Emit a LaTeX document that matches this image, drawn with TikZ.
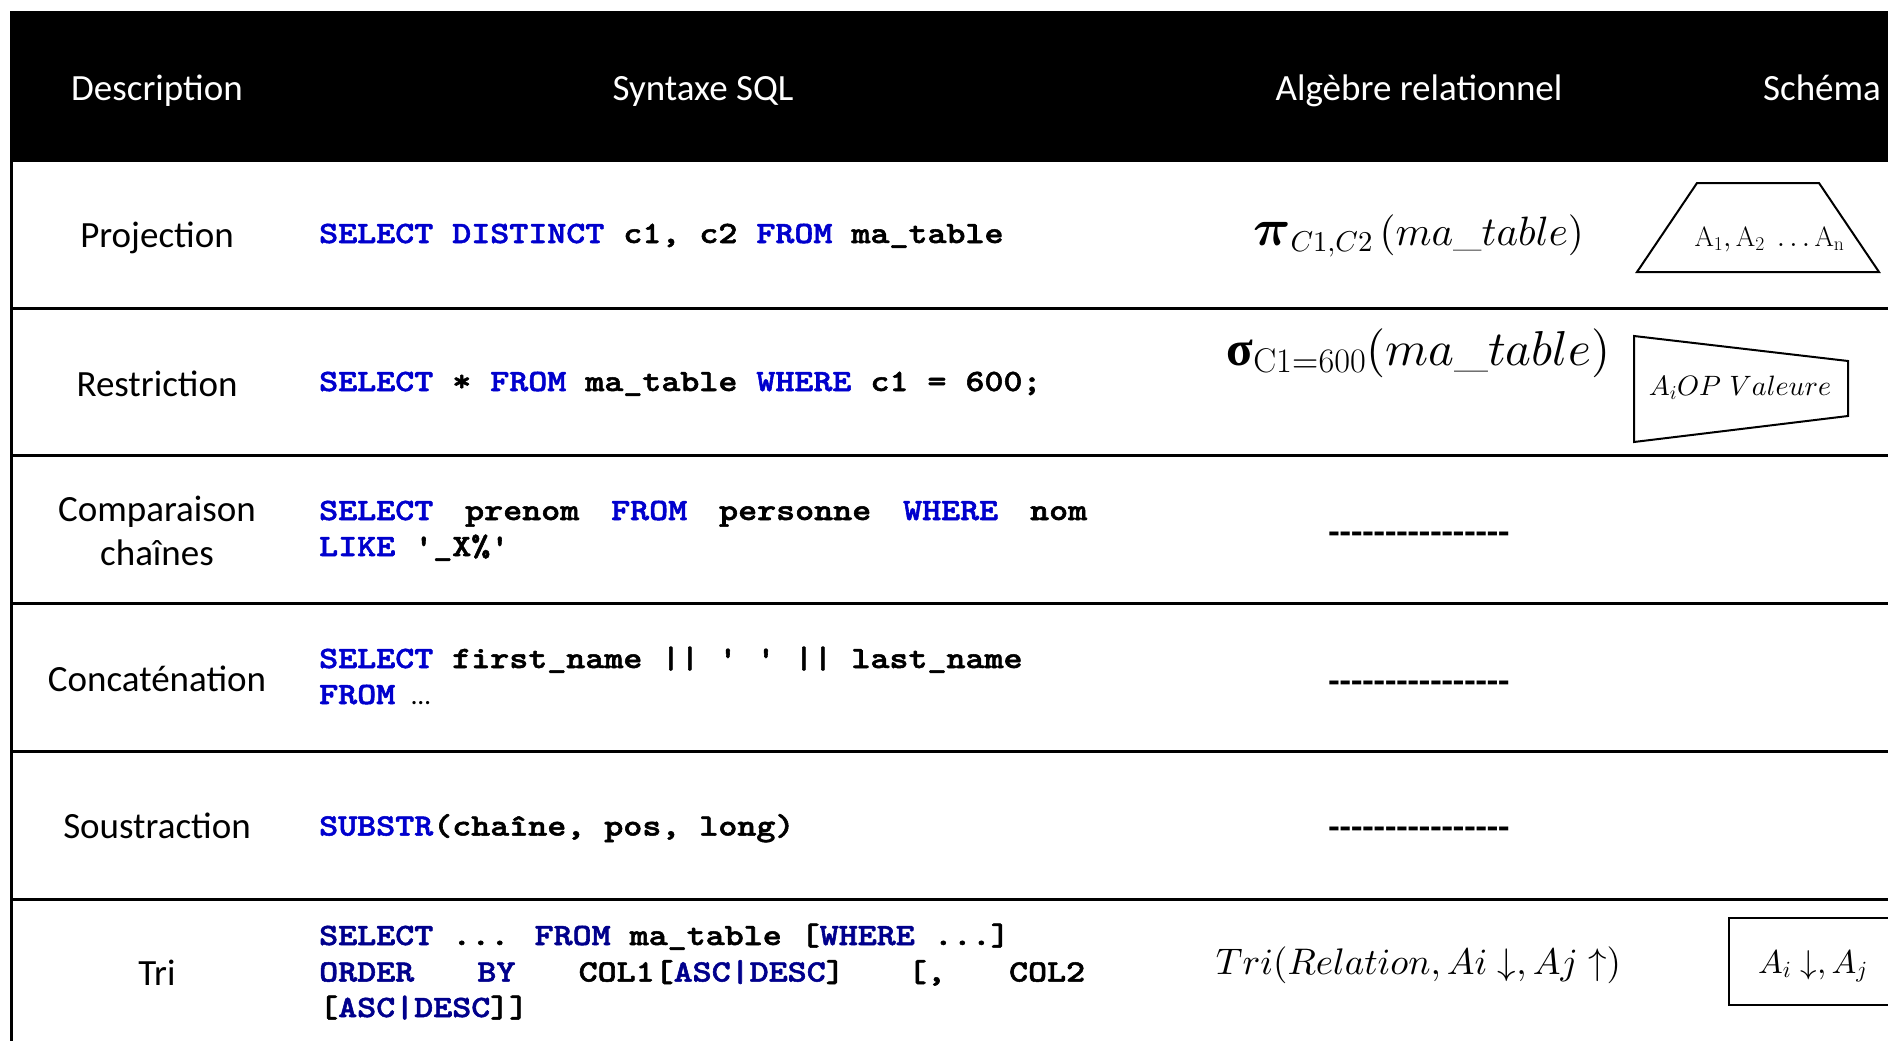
\documentclass[tikz,border=0pt]{standalone}
\usepackage{amsmath}
\usepackage{graphicx}
\usepackage{fontspec}
\DeclareFontShape{OML}{cmm}{m}{it}{<->cmmi10}{}
\DeclareFontShape{OML}{cmm}{b}{it}{<->cmmib10}{}
\DeclareFontShape{OT1}{cmr}{m}{n}{<->cmr10}{}
\DeclareFontShape{OT1}{cmr}{bx}{n}{<->cmbx10}{}
\DeclareFontShape{OMS}{cmsy}{m}{n}{<->cmsy10}{}
\DeclareFontShape{OMS}{cmsy}{b}{n}{<->cmbsy10}{}
\DeclareFontShape{OMX}{cmex}{m}{n}{<->cmex10}{}
\newfontfamily\descfont{Carlito}
\newfontfamily\greekfont{Liberation Serif}
\newfontfamily\codefont{lmmonolt10-bold}[Extension=.otf, FakeBold=1.6]
\definecolor{kwblue}{RGB}{0,0,205}
\definecolor{kwnavy}{RGB}{0,0,140}
\newcommand\kw[1]{\textcolor{kwblue}{#1}}
\newcommand\kn[1]{\textcolor{kwnavy}{#1}}
\newcommand\sx[1]{\scalebox{1.168}[1]{#1}}
\newcommand\hy{-\kern0pt}
\newcommand\dashrow{\hy\hy\hy\hy\hy\hy\hy\hy\hy\hy\hy\hy\hy\hy\hy-}
\tikzset{
  desc/.style={font=\descfont\fontsize{37}{44}\selectfont, anchor=base, inner sep=0pt},
  head/.style={desc, text=white},
  code/.style={font=\codefont\fontsize{31}{36}\selectfont, anchor=base west, inner sep=0pt},
  alg/.style={anchor=base, inner sep=0pt},
  dashtxt/.style={font=\descfont\bfseries\fontsize{37}{44}\selectfont, anchor=base, inner sep=0pt},
  shapeline/.style={line width=2pt},
  tablerule/.style={line width=3pt},
}
\begin{document}
\begin{tikzpicture}[x=1pt,y=-1pt]
\useasboundingbox (0,0) rectangle (1888,1041);
\clip (0,0) rectangle (1888,1041);
% header
\fill[black] (10,11) rectangle (1895,162);
\node[head] (h1) at (157,100.5) {Description};
\node[head] (h2) at (703,100.5) {Syntaxe SQL};
\node[head] (h3) at (1419,100.5) {Algèbre relationnel};
\node[head] (h4) at (1822,100.5) {Schéma};
% rules
\draw[tablerule] (11.5,160) -- (11.5,1050);
\foreach \yy in {308,455,603,751,899} \draw[tablerule] (10,\yy) -- (1895,\yy);
% description column
\node[desc] (d1) at (157,247.5) {Projection};
\node[desc] (d2) at (157,396) {Restriction};
\node[desc] (d3a) at (157,521) {Comparaison};
\node[desc] (d3b) at (157,565) {chaînes};
\node[desc] (d4) at (157,691) {Concaténation};
\node[desc] (d5) at (157,838) {Soustraction};
\node[desc] (d6) at (157,985) {Tri};
% SQL column
\node[code] (c1) at (319,243) {\sx{\kw{SELECT DISTINCT} c1, c2 \kw{FROM} ma\_table}};
\node[code] (c2) at (319,391) {\sx{\kw{SELECT} * \kw{FROM} ma\_table \kw{WHERE} c1 = 600;}};
\node[code] (c3a) at (319,520) {\sx{\hbox to 657.5pt{\kw{SELECT}\hfill prenom\hfill\kw{FROM}\hfill personne\hfill\kw{WHERE}\hfill nom}}};
\node[code] (c3b) at (319,556) {\sx{\kw{LIKE} \textquotesingle\_X\%\textquotesingle}};
\node[code] (c4a) at (319,668) {\sx{\kw{SELECT} first\_name || \textquotesingle{} \textquotesingle{} || last\_name}};
\node[code] (c4b) at (319,704) {\sx{\kw{FROM}} {\descfont\mdseries\fontsize{27}{30}\selectfont …}};
\node[code] (c5) at (319,835.5) {\sx{\kw{SUBSTR}(chaîne, pos, long)}};
\node[code] (c6a) at (319,945) {\sx{\kn{SELECT} ... \kn{FROM} ma\_table [\kn{WHERE} ...]}};
\node[code] (c6b) at (319,981.5) {\sx{\hbox to 655.8pt{\kn{ORDER}\hfill\kn{BY}\hfill COL1[\kn{ASC|DESC}]\hfill[,\hfill COL2}}};
\node[code] (c6c) at (319,1017) {\sx{[\kn{ASC|DESC}]]}};
% algebra column
\node[alg, font=\fontsize{41}{48}\selectfont] (a1) at (1418.5,245)
  {$\text{\fontsize{52}{52}\selectfont$\boldsymbol{\pi}$}_{C1,C2}\,(ma\_table)$};
\node[alg, font=\fontsize{49}{56}\selectfont] (a2) at (1418.5,365)
  {$\text{\greekfont\bfseries σ}_{\mathrm{C1=600}}(ma\_table)$};
\node[dashtxt] (a3) at (1419,544.5) {\dashrow};
\node[dashtxt] (a4) at (1419,693.5) {\dashrow};
\node[dashtxt] (a5) at (1419,839.5) {\dashrow};
\node[alg, font=\fontsize{37}{44}\selectfont] (a6) at (1418.5,974)
  {$Tri(Relation,Ai\;{\downarrow},Aj\;{\uparrow})$};
% schema column
\draw[shapeline] (1697,183) -- (1819,183) -- (1879,272) -- (1637,272) -- cycle;
\node[alg, font=\fontsize{28}{32}\selectfont] (s1) at (1769.5,246) {$\mathrm{A_1,A_2}\;\ldots\mathrm{A_n}$};
\draw[shapeline] (1634,336) -- (1848,361) -- (1848,416) -- (1634,442) -- cycle;
\node[alg, font=\fontsize{28}{32}\selectfont] (s2) at (1740,395) {$A_iOP\ Valeure$};
\draw[shapeline] (1900,918) -- (1729,918) -- (1729,1005) -- (1900,1005);
\node[alg, font=\fontsize{33}{38}\selectfont] (s6) at (1813,973) {$A_i\downarrow,A_j$};
\end{tikzpicture}
\end{document}
